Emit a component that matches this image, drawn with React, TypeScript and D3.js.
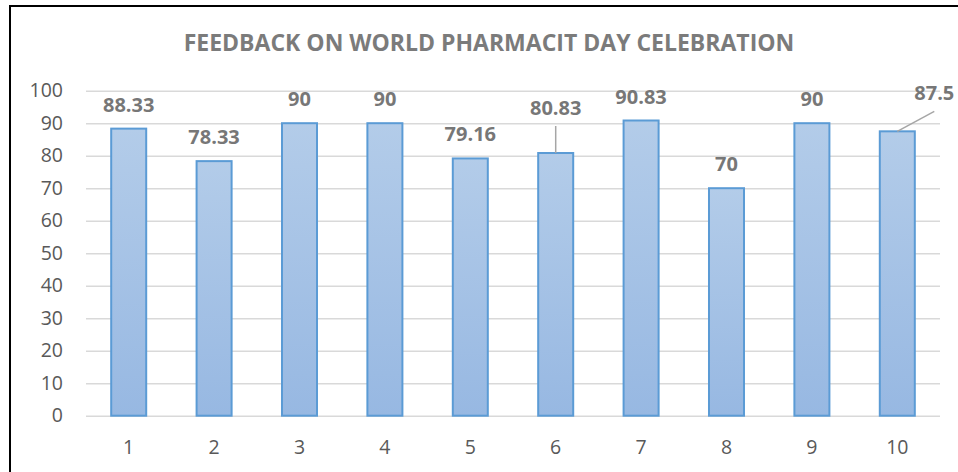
import { axisLeft, scaleBand, scaleLinear, select } from "d3";
import React, { useEffect, useRef } from "react";

const categories = ["1", "2", "3", "4", "5", "6", "7", "8", "9", "10"];
const scores = [88.33, 78.33, 90, 90, 79.16, 80.83, 90.83, 70, 90, 87.5];
const scoreLabels = ["88.33", "78.33", "90", "90", "79.16", "80.83", "90.83", "70", "90", "87.5"];
const yTicks = [0, 10, 20, 30, 40, 50, 60, 70, 80, 90, 100];

const W = 958;
const H = 472;

const App: React.FC = () => {
    const svgRef = useRef<SVGSVGElement>(null);

    useEffect(() => {
        if (!svgRef.current) return;
        svgRef.current.innerHTML = "";

        const margin = { top: 90.7, right: 18, bottom: 56.3, left: 86 };
        const width = W - margin.left - margin.right;
        const height = H - margin.top - margin.bottom;

        const x = scaleBand<string>()
            .domain(categories)
            .range([0, width])
            .paddingInner(0.59)
            .paddingOuter(0.295);

        const y = scaleLinear().domain([0, 100]).range([height, 0]);

        const svg = select(svgRef.current)
            .attr("width", W)
            .attr("height", H)
            .style("font-family", "'Open Sans', sans-serif");

        const grad = svg
            .append("defs")
            .append("linearGradient")
            .attr("id", "barFill")
            .attr("x1", 0)
            .attr("y1", 0)
            .attr("x2", 0)
            .attr("y2", 1);
        grad.append("stop").attr("offset", "0%").attr("stop-color", "#b3cce9");
        grad.append("stop").attr("offset", "100%").attr("stop-color", "#97b8e2");

        svg.append("rect").attr("width", W).attr("height", H).attr("fill", "#fff");

        // outer frame (right and bottom edge fall outside the picture)
        svg.append("rect")
            .attr("x", 10)
            .attr("y", 6)
            .attr("width", W + 20)
            .attr("height", H + 20)
            .attr("fill", "none")
            .attr("stroke", "#000")
            .attr("stroke-width", 2);

        svg.append("text")
            .attr("x", 489)
            .attr("y", 51)
            .attr("text-anchor", "middle")
            .attr("fill", "#7b7b7b")
            .attr("font-size", 23)
            .attr("font-weight", "bold")
            .text("FEEDBACK ON WORLD PHARMACIT DAY CELEBRATION");

        const g = svg
            .append("g")
            .attr("transform", "translate(" + margin.left + "," + margin.top + ")");

        g.append("g")
            .call(
                axisLeft(y)
                    .tickValues(yTicks)
                    .tickSize(-width)
                    .tickPadding(23),
            )
            .call(a => a.select(".domain").remove())
            .call(a =>
                a.selectAll(".tick line").attr("stroke", "#d9d9d9").attr("stroke-width", 1.5),
            )
            .call(a =>
                a
                    .selectAll(".tick text")
                    .attr("fill", "#595959")
                    .attr("font-size", 19.5)
                    .attr("font-family", "'Open Sans', sans-serif"),
            );

        g.selectAll(".bar")
            .data(scores)
            .enter()
            .append("rect")
            .attr("x", (d, i) => x(categories[i])!)
            .attr("y", d => y(d))
            .attr("width", x.bandwidth())
            .attr("height", d => height - y(d))
            .attr("fill", "url(#barFill)")
            .attr("stroke", "#5b9bd5")
            .attr("stroke-width", 2);

        g.selectAll(".xlabel")
            .data(categories)
            .enter()
            .append("text")
            .attr("x", d => x(d)! + x.bandwidth() / 2)
            .attr("y", height + 38)
            .attr("text-anchor", "middle")
            .attr("fill", "#595959")
            .attr("font-size", 19.5)
            .text(d => d);

        // data labels that were dragged away from their bars, with leader lines
        const moved: Record<number, { dx: number; dy: number }> = {
            5: { dx: 0, dy: -21 },
            9: { dx: 37, dy: -14 },
        };

        scores.forEach((d, i) => {
            const cx = x(categories[i])! + x.bandwidth() / 2;
            const top = y(d);
            const off = moved[i] || { dx: 0, dy: 0 };
            const bx = cx + off.dx;
            const by = top - 17 + off.dy;

            if (moved[i]) {
                g.append("line")
                    .attr("x1", cx)
                    .attr("y1", top)
                    .attr("x2", bx)
                    .attr("y2", by + 11)
                    .attr("stroke", "#a6a6a6")
                    .attr("stroke-width", 1.5);
            }

            g.append("text")
                .attr("x", bx)
                .attr("y", by)
                .attr("text-anchor", "middle")
                .attr("fill", "#777777")
                .attr("font-size", 20)
                .attr("font-weight", "bold")
                .text(scoreLabels[i]);
        });
    }, []);

    return (
        <div style={{ position: "absolute", left: 0, top: 0 }}>
            <svg ref={svgRef}></svg>
        </div>
    );
};

export default App;
